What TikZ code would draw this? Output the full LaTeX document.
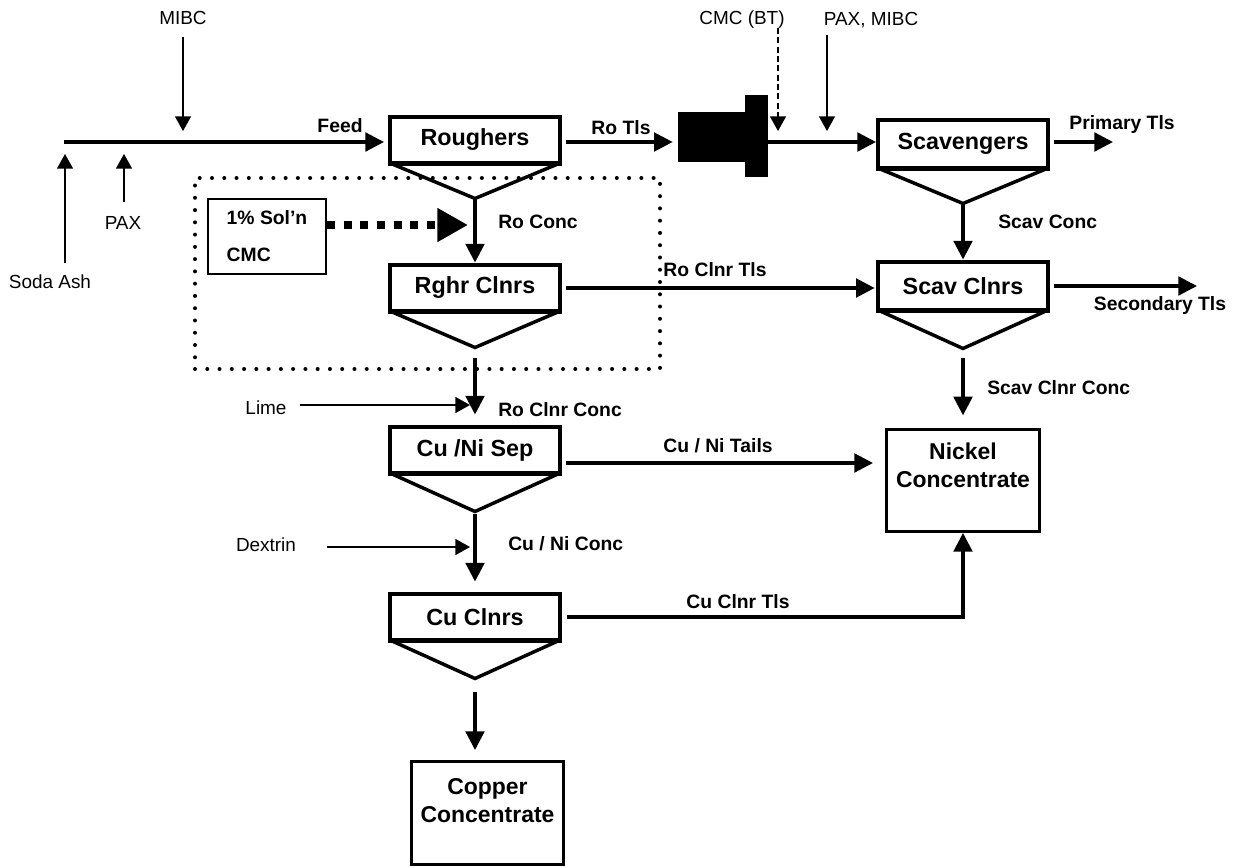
\documentclass[tikz,border=0pt]{standalone}
\usepackage{fontspec}
\setmainfont{Liberation Sans}
\usetikzlibrary{arrows.meta,calc}
\newcommand\boxfont{\fontsize{17.5}{21.5}\selectfont\bfseries}
\newcommand\prodfont{\fontsize{17.2}{21}\selectfont\bfseries}
\newcommand\lblfont{\fontsize{14.5}{17}\selectfont\bfseries}
\newcommand\solfont{\fontsize{14.5}{27.75}\selectfont\bfseries}
\newcommand\rgfont{\fontsize{14.2}{17}\selectfont}
\begin{document}
\begin{tikzpicture}[x=0.75pt,y=-0.75pt,
 cell/.style={draw,line width=3.3pt,minimum width=127.2pt,minimum height=34.95pt,inner sep=0pt,font=\boxfont},
 funnel/.style={line width=2.6pt,line join=miter},
 prod/.style={draw,line width=2pt,inner sep=0pt},
 ptxt/.style={font=\prodfont,align=center,inner sep=0pt,anchor=north},
 main/.style={line width=2.4pt,-{Triangle[length=14pt,width=14pt]}},
 thin/.style={line width=1.2pt,-{Triangle[length=11pt,width=12pt]}},
 thindash/.style={thin,dash pattern=on 4.5pt off 2.5pt},
 blab/.style={font=\lblfont,inner sep=0pt},
 rlab/.style={font=\rgfont,inner sep=0pt},
 blk/.style={fill=black,draw=none,inner sep=0pt,outer sep=0pt},
 dotbox/.style={draw,line width=3pt,line cap=round,dash pattern=on 0pt off 9.2pt,inner sep=0pt},
 solbox/.style={draw,line width=1.2pt,font=\solfont,align=left,inner sep=0pt,minimum width=88.8pt,minimum height=56.55pt},
 bigdash/.style={line width=6pt,dash pattern=on 6pt off 6.5pt,-{Triangle[length=23pt,width=24pt]}},
]
\useasboundingbox (0,0) rectangle (1238,867);

% dotted group box
\node[dotbox,minimum width=348.75pt,minimum height=143.25pt] (grp) at (427.5,273.5) {};

% flotation cells
\node[cell] (rough) at (475,140) {Roughers};
\node[cell] (rghr) at (475,288) {Rghr Clnrs};
\node[cell] (sep) at (475,450) {Cu /Ni Sep};
\node[cell] (cucl) at (475,617) {Cu Clnrs};
\node[cell,minimum height=36.45pt] (scav) at (963,144) {Scavengers};
\node[cell,minimum height=36.45pt] (scavcl) at (963,286) {Scav Clnrs};

\foreach \c/\d in {rough/33,rghr/34,sep/36,cucl/36,scav/33,scavcl/36}{
  \draw[funnel] ([xshift=2pt,yshift=1.6pt]\c.south west) -- ($(\c.south)+(0,\d)$) coordinate (\c-a) -- ([xshift=-2pt,yshift=1.6pt]\c.south east);
}

% products
\node[prod,minimum width=115pt,minimum height=76.75pt] (nickel) at (963,480.5) {};
\node[ptxt] (nicktxt) at ($(nickel.north)+(0,15)$) {Nickel\\Concentrate};
\node[prod,minimum width=114.25pt,minimum height=77.5pt] (copper) at (487.5,813) {};
\node[ptxt] (coptxt) at ($(copper.north)+(0,18)$) {Copper\\Concentrate};

% conditioner
\node[blk,minimum width=50.25pt,minimum height=37.5pt] (cond) at (711.5,137) {};
\node[blk,minimum width=17.25pt,minimum height=61.5pt] (flange) at (756.5,136) {};

% CMC solution box
\node[solbox] (sol) at (267,236.5) {1\% Sol’n\\CMC};
\coordinate (cmcTip) at (468,225);
\draw[bigdash] (sol.east |- cmcTip) -- (cmcTip);

% feed line
\coordinate (feedstart) at (64,142);
\draw[main,shorten >=3pt] (feedstart) -- (feedstart -| rough.west);
\draw[main,shorten <=3pt,shorten >=4pt] (rough.east |- feedstart) -- (cond.west |- feedstart);
\draw[main] (flange.east |- feedstart) -- (scav.west |- feedstart);
\coordinate (primEnd) at (1113,142);
\draw[main,shorten <=3pt] (scav.east |- primEnd) -- (primEnd);

% vertical streams
\draw[main] (rough-a) -- (rghr.north);
\draw[main,shorten <=8pt,shorten >=7.5pt] (rghr-a) -- (sep.north);
\draw[main,shorten <=2pt,shorten >=7.5pt] (sep-a) -- (cucl.north);
\draw[main,shorten <=10pt,shorten >=7.5pt] (cucl-a) -- (cucl-a |- copper.north);
\draw[main] (scav-a) -- (scavcl.north);
\draw[main,shorten <=7pt,shorten >=9.5pt] (scavcl-a) -- (scavcl-a |- nickel.north);

% horizontal streams
\draw[main,shorten <=3pt,shorten >=1pt] (rghr.east) -- (rghr.east -| scavcl.west);
\coordinate (secEnd) at (1197,286);
\draw[main,shorten <=3pt] (scavcl.east) -- (secEnd);
\draw[main,shorten <=3pt,shorten >=9pt] ([yshift=-9.75pt]sep.east) -- ([yshift=-9.75pt]sep.east -| nickel.west);
\draw[main,shorten <=4pt] (cucl.east) -| (nickel.south);

% reagent additions
\coordinate (mibcA) at (183,37);  \coordinate (mibcB) at (183,131);
\coordinate (paxA) at (124,202);  \coordinate (paxB) at (124,154);
\coordinate (sodaA) at (65,263);  \coordinate (sodaB) at (65,154);
\coordinate (cmcA) at (778,28);   \coordinate (cmcB) at (778,131);
\coordinate (pmA) at (827,35);    \coordinate (pmB) at (827,131);
\coordinate (limeA) at (300,405); \coordinate (limeB) at (470,405);
\coordinate (dexA) at (327,547);  \coordinate (dexB) at (470,547);
\draw[thin] (mibcA) -- (mibcB);
\draw[thin] (paxA) -- (paxB);
\draw[thin] (sodaA) -- (sodaB);
\draw[thindash] (cmcA) -- (cmcB);
\draw[thin] (pmA) -- (pmB);
\draw[thin] (limeA) -- (limeB);
\draw[thin] (dexA) -- (dexB);

\node[rlab] (mibc) at (183,18) {MIBC};
\node[rlab] (pax1) at (123,223) {PAX};
\node[rlab] (soda) at (50,282) {Soda Ash};
\node[rlab] (cmcbt) at (742,20) {CMC (BT)};
\node[rlab] (paxmibc) at (871,20) {PAX, MIBC};
\node[rlab] (lime) at (266,408) {Lime};
\node[rlab] (dex) at (266,545) {Dextrin};

% stream labels
\node[blab] (feedlab) at (340,126) {Feed};
\node[blab] (rotls) at (621,128) {Ro Tls};
\node[blab] (primary) at (1122,125) {Primary Tls};
\node[blab,anchor=west] (roconc) at (498,222) {Ro Conc};
\node[blab,anchor=west] (scavconc) at (998,222) {Scav Conc};
\node[blab] (roclnrtls) at (715,270) {Ro Clnr Tls};
\node[blab] (secondary) at (1160,305) {Secondary Tls};
\node[blab,anchor=west] (scavclnrconc) at (987,388) {Scav Clnr Conc};
\node[blab,anchor=west] (roclnrconc) at (498,410) {Ro Clnr Conc};
\node[blab] (cunitails) at (718,446) {Cu / Ni Tails};
\node[blab,anchor=west] (cuniconc) at (508,544) {Cu / Ni Conc};
\node[blab] (cuclnrtls) at (738,602) {Cu Clnr Tls};
\end{tikzpicture}
\end{document}
